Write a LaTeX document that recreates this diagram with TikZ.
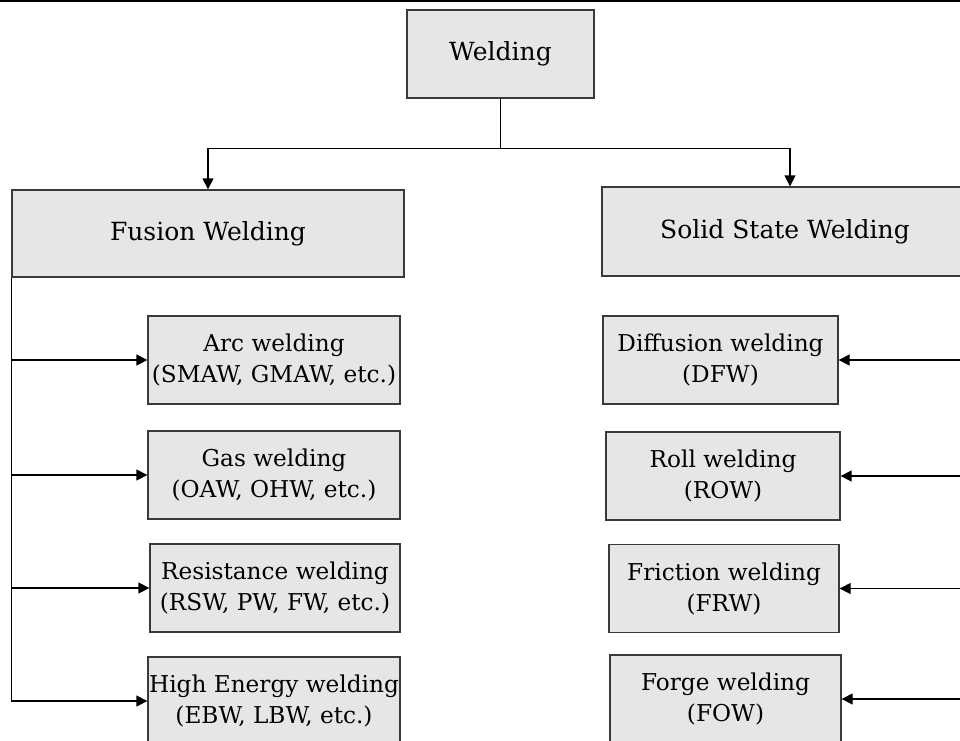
\documentclass[tikz,border=0pt]{standalone}
\usepackage{fontspec}
\setmainfont{DejaVu Serif}
\usetikzlibrary{arrows.meta}

\definecolor{boxfill}{HTML}{E6E6E6}
\definecolor{boxline}{HTML}{3A3A3A}

\tikzset{
  box/.style={draw=boxline, fill=boxfill, line width=1.3pt, inner sep=0pt, align=center},
  head/.style={box, font=\fontsize{25}{30}\selectfont},
  sub/.style={box, font=\fontsize{23.2}{31}\selectfont, minimum height=88},
  wire/.style={line width=1.3pt},
  link/.style={wire, -{Triangle[length=11pt,width=11pt]}}
}

\begin{document}
\begin{tikzpicture}[x=1pt,y=-1pt]
    \useasboundingbox (0,0) rectangle (960,740);
    \clip (0,0) rectangle (960,740);
    \draw[line width=2pt] (0,0.5) -- (960,0.5);

    % top levels
    \node[head, minimum width=187, minimum height=88] (weld) at (500.5,54) {Welding};
    \node[head, minimum width=392, minimum height=87] (fusion) at (208,233.5) {Fusion Welding};
    \node[head, minimum width=366, minimum height=89] (solid) at (785,231.5) {Solid State Welding};

    \draw[wire] (weld.south) -- ++(0,50) coordinate (fork);
    \draw[link] (fork) -| (fusion.north);
    \draw[link] (fork) -| ([xshift=5pt]solid.north);

    % fusion processes
    \foreach \n/\x/\y/\w/\t in {
        arc/274/360/252/{Arc welding\\(SMAW, GMAW, etc.)},
        gas/274/475/252/{Gas welding\\(OAW, OHW, etc.)},
        res/275/588/250/{Resistance welding\\(RSW, PW, FW, etc.)},
        hew/274/701/252/{High Energy welding\\(EBW, LBW, etc.)}} {
      \node[sub, minimum width=\w] (\n) at (\x,\y) {\t};
    }
    \draw[wire] (fusion.south west) -- (fusion.south west |- hew.west);
    \foreach \n in {arc,gas,res,hew}
      \draw[link] (fusion.south west |- \n.west) -- (\n.west);

    % solid state processes
    \foreach \n/\x/\y/\w/\t in {
        dfw/720.5/360/235/{Diffusion welding\\(DFW)},
        row/723/476/234/{Roll welding\\(ROW)},
        frw/724/588.5/230/{Friction welding\\(FRW)},
        fow/725.5/699/231/{Forge welding\\(FOW)}} {
      \node[sub, minimum width=\w] (\n) at (\x,\y) {\t};
    }
    \coordinate (rside) at (962,0);
    \foreach \n in {dfw,row,frw,fow}
      \draw[link] (rside |- \n.east) -- (\n.east);
\end{tikzpicture}
\end{document}
